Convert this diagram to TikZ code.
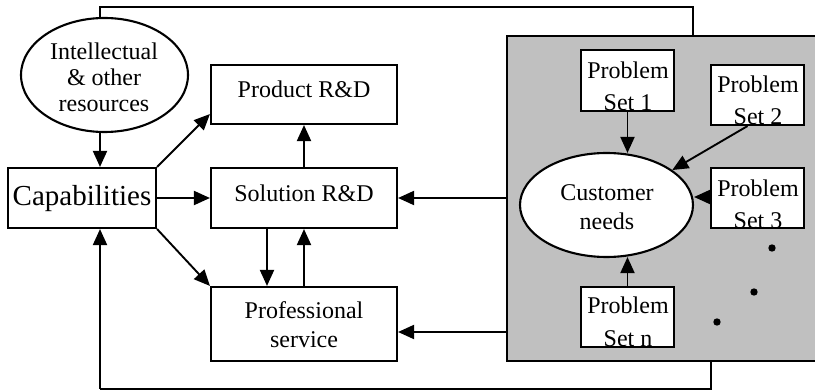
\documentclass[tikz,border=0pt]{standalone}
\usepackage{fontspec}
\setmainfont{Liberation Serif}
\usetikzlibrary{arrows.meta,shapes.geometric}
\begin{document}
\begin{tikzpicture}[x=1pt,y=-1pt,
  box/.style={draw,line width=2.1pt,fill=white,inner sep=0pt,rectangle},
  oval/.style={draw,line width=2.1pt,fill=white,inner sep=0pt,ellipse},
  conn/.style={line width=1.9pt,-{Triangle[length=16pt,width=14pt]}},
  loop/.style={line width=1.5pt},
  txt/.style={inner sep=0pt,anchor=base,font=\fontsize{24}{28}\selectfont},
  bigtxt/.style={inner sep=0pt,anchor=base,font=\fontsize{29}{34}\selectfont}]
\useasboundingbox (0,0) rectangle (815,390);

% helper coordinates for the routed lines
\coordinate (xl) at (100,0);
\coordinate (xr) at (693,0);
\coordinate (xb) at (711,0);
\coordinate (xd) at (267,0);
\coordinate (ytop) at (0,7);
\coordinate (ybot) at (0,389);
\coordinate (yps) at (0,332);

% customer side panel
\node[draw,line width=2.1pt,fill={rgb,255:red,192;green,192;blue,192},inner sep=0pt,
      minimum width=323pt,minimum height=325pt] (panel) at (668.5,198.5) {};

% main boxes
\node[oval,minimum width=167pt,minimum height=114pt] (intel) at (104.5,75) {};
\node[box,minimum width=148pt,minimum height=60pt] (cap) at (82,198) {};
\node[box,minimum width=186pt,minimum height=59pt] (prod) at (304,94.5) {};
\node[box,minimum width=186pt,minimum height=60pt] (sol) at (304,198) {};
\node[box,minimum width=186pt,minimum height=74pt] (prof) at (304,324) {};

% problem sets and customer needs
\node[oval,minimum width=173pt,minimum height=104pt] (cust) at (606.5,205) {};
\node[box,minimum width=93pt,minimum height=61pt] (ps1) at (627.5,80.5) {};
\node[box,minimum width=93pt,minimum height=60pt] (ps2) at (757.5,95) {};
\node[box,minimum width=93pt,minimum height=60pt] (ps3) at (757.5,198) {};
\node[box,minimum width=93pt,minimum height=60pt] (psn) at (627.5,317) {};

% labels
\node[txt] (intelA) at (104,60) {Intellectual};
\node[txt] (intelB) at (104,86) {\& other};
\node[txt] (intelC) at (104,112) {resources};
\node[bigtxt] (capT) at (82,206) {Capabilities};
\node[txt] (prodT) at (304,98) {Product R\&D};
\node[txt] (solT) at (304,202) {Solution R\&D};
\node[txt] (profA) at (304,319) {Professional};
\node[txt] (profB) at (304,348) {service};
\node[txt] (custA) at (607,201) {Customer};
\node[txt] (custB) at (607,230) {needs};
\node[txt] (ps1A) at (628,79) {Problem};
\node[txt] (ps1B) at (628,111) {Set 1};
\node[txt] (ps2A) at (758,93) {Problem};
\node[txt] (ps2B) at (758,125) {Set 2};
\node[txt] (ps3A) at (758,197) {Problem};
\node[txt] (ps3B) at (758,229) {Set 3};
\node[txt] (psnA) at (628,314) {Problem};
\node[txt] (psnB) at (628,347) {Set n};

% ellipsis dots
\fill (772,248) circle (3.7pt);
\fill (754,292) circle (3.7pt);
\fill (717,322) circle (3.7pt);

% capability flows
\draw[conn] (intel.south -| xl) -- (cap.north -| xl);
\draw[conn] (cap.north east) -- ([yshift=11pt]prod.south west);
\draw[conn] (cap.east) -- (sol.west);
\draw[conn] (cap.south east) -- (prof.north west);
\draw[conn] (sol.north) -- (prod.south);
\draw[conn] (sol.south -| xd) -- (prof.north -| xd);
\draw[conn] (prof.north) -- (sol.south);

% needs feeding the R&D and services
\draw[conn] (panel.west |- sol.east) -- (sol.east);
\draw[conn] (panel.west |- yps) -- (prof.east |- yps);

% problem sets into customer needs
\draw[conn] (ps1.south) -- ([yshift=-1pt]ps1.south |- cust.north);
\draw[conn] ([xshift=-10pt]ps2.south) -- (cust.28);
\draw[conn] ([yshift=1pt]ps3.west) -- ([yshift=1pt]ps3.west -| cust.east);
\draw[conn] (psn.north) -- ([yshift=1pt]psn.north |- cust.south);

% feedback loops
\draw[loop] (intel.north -| xl) |- (ytop -| xr) -- (panel.north -| xr);
\draw[loop] (panel.south -| xb) |- (ybot -| xl);
\draw[conn] (ybot -| xl) -- (cap.south -| xl);
\end{tikzpicture}
\end{document}
